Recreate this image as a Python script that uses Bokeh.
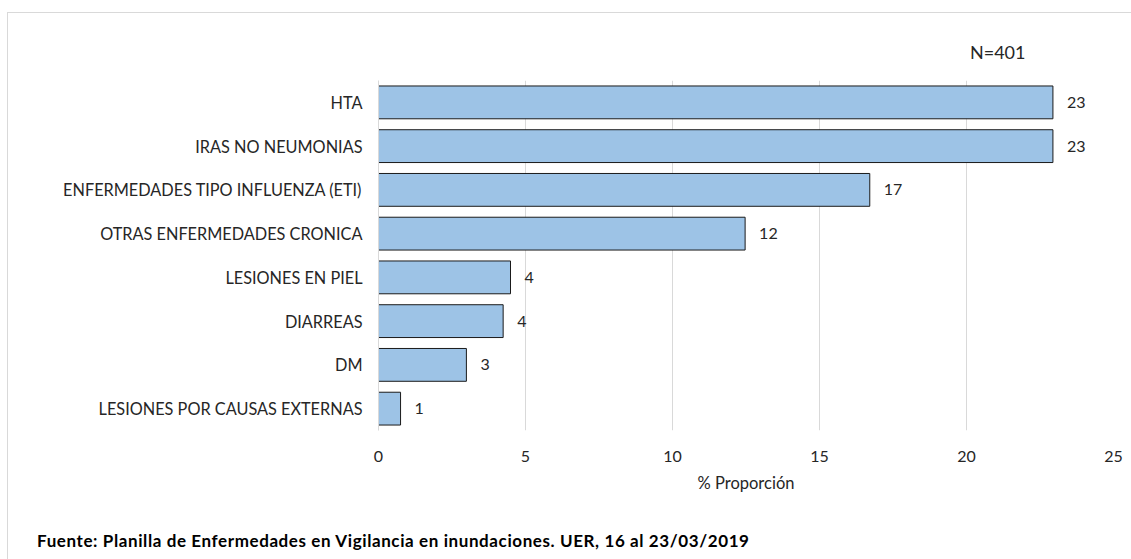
from bokeh.plotting import figure
from bokeh.models import FactorRange, Range1d, ColumnDataSource, FixedTicker, Title, Div
from bokeh.layouts import column
from bokeh.core.properties import value
from bokeh.embed import file_html
from bokeh.resources import INLINE

categories = ["HTA", "IRAS NO NEUMONIAS", "ENFERMEDADES TIPO INFLUENZA (ETI)",
              "OTRAS ENFERMEDADES CRONICA", "LESIONES EN PIEL", "DIARREAS", "DM",
              "LESIONES POR CAUSAS EXTERNAS"]
values = [22.94, 22.94, 16.71, 12.47, 4.49, 4.24, 2.99, 0.75]
x_ticks = [0, 5, 10, 15, 20, 25]
n_label = "N=401"
x_title = "% Proporción"
footer = "Fuente: Planilla de Enfermedades en Vigilancia en inundaciones. UER, 16 al 23/03/2019"

FONT = "Lato"
TXT = "#262626"

src = ColumnDataSource(dict(cat=categories, val=values,
                            lab=[f"{v:.0f}" for v in values]))

p = figure(width=1123, height=503, output_backend="svg", toolbar_location=None,
           y_range=FactorRange(factors=categories[::-1]),
           x_range=Range1d(0, 25),
           min_border_left=370, min_border_right=18,
           min_border_top=67, min_border_bottom=86)

p.hbar(y="cat", right="val", left=0, height=0.75, source=src,
       fill_color="#9DC3E6", line_color="#1a1a1a", line_width=1)

p.text(x="val", y="cat", text="lab", source=src, x_offset=14,
       text_align="left", text_baseline="middle",
       text_font=value(FONT), text_font_size="16px", text_color=TXT)

p.outline_line_color = None
p.ygrid.grid_line_color = None
p.xgrid.grid_line_color = "#d9d9d9"
p.xaxis.ticker = FixedTicker(ticks=x_ticks)

p.xaxis.axis_line_color = None
p.xaxis.major_tick_line_color = None
p.xaxis.minor_tick_line_color = None
p.xaxis.major_tick_out = 0
p.xaxis.major_tick_in = 0
p.xaxis.major_label_standoff = 20
p.xaxis.major_label_text_font = FONT
p.xaxis.major_label_text_font_size = "16px"
p.xaxis.major_label_text_color = TXT
p.xaxis.axis_label = x_title
p.xaxis.axis_label_text_font = FONT
p.xaxis.axis_label_text_font_size = "16.5px"
p.xaxis.axis_label_text_font_style = "normal"
p.xaxis.axis_label_text_color = TXT
p.xaxis.axis_label_standoff = 8

p.yaxis.axis_line_color = "#d9d9d9"
p.yaxis.major_tick_line_color = None
p.yaxis.minor_tick_line_color = None
p.yaxis.major_tick_out = 0
p.yaxis.major_tick_in = 0
p.yaxis.major_label_standoff = 16
p.yaxis.major_label_text_font = FONT
p.yaxis.major_label_text_font_size = "16.3px"
p.yaxis.major_label_text_color = TXT

t = Title(text=n_label, align="right", offset=88, vertical_align="middle",
          standoff=34, text_font=FONT, text_font_size="18px",
          text_font_style="normal", text_color=TXT)
p.add_layout(t, "above")

foot = Div(text=footer, width=1123, height=43,
           styles={"font-family": "Lato", "font-size": "17px", "font-weight": "bold",
                   "letter-spacing": "0.6px",
                   "color": "#000000", "padding-left": "24px", "padding-top": "10px",
                   "line-height": "1.2", "white-space": "nowrap",
                   "box-sizing": "border-box"})

lay = column(p, foot, spacing=0,
             styles={"margin-left": "7px", "margin-top": "12px",
                     "border-left": "1px solid #d9d9d9", "border-top": "1px solid #d9d9d9"})

open("out.html", "w").write(file_html(lay, INLINE))
